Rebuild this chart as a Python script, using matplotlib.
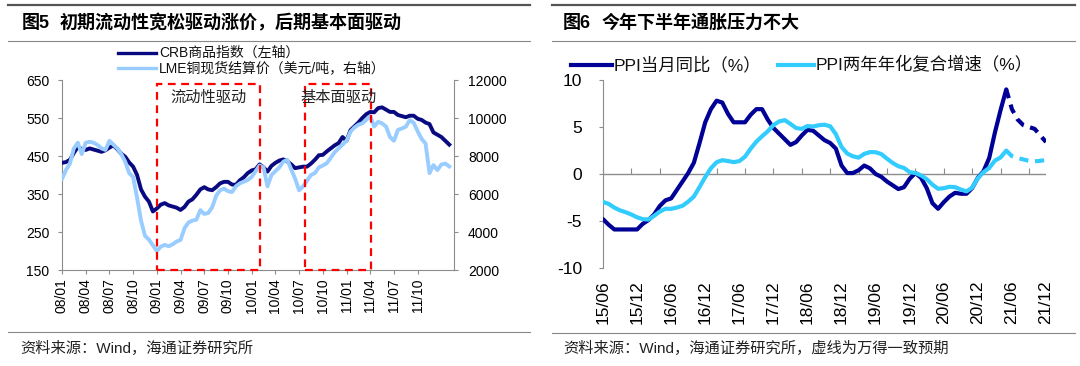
import numpy as np
import matplotlib.pyplot as plt
from matplotlib.lines import Line2D
from matplotlib.patches import Rectangle

plt.rcParams['font.family'] = ['Liberation Sans', 'Noto Sans CJK SC']
plt.rcParams['axes.unicode_minus'] = False

# ---------------- 数据 ----------------
# 图5：半月频，2008/01 起
crb = [432, 434, 440, 458, 474, 468, 466, 470, 467, 464,
       461, 465, 472, 478, 468, 456, 448, 433, 422, 400,
       362, 343, 330, 304, 312, 322, 326, 320, 317, 314,
       308, 316, 330, 336, 348, 362, 368, 362, 360, 368,
       378, 382, 382, 375, 374, 386, 394, 405, 412, 415,
       428, 420, 409, 424, 432, 438, 441, 436, 428, 418,
       420, 422, 422, 430, 440, 452, 453, 462, 470, 478,
       484, 500, 490, 518, 528, 538, 550, 560, 566, 565,
       576, 578, 572, 566, 566, 558, 555, 552, 556, 556,
       548, 545, 538, 534, 512, 506, 500, 490, 480]
lme = [6800, 7260, 7600, 8400, 8700, 8100, 8700, 8750, 8700, 8580,
       8400, 8320, 8800, 8600, 8400, 8100, 7700, 7100, 6900, 5800,
       4600, 3800, 3600, 3300, 3000, 3230, 3320, 3250, 3350, 3500,
       3580, 4200, 4500, 4600, 4650, 5150, 4950, 5000, 5300, 5900,
       6200, 6280, 6150, 6100, 6400, 6560, 6650, 6740, 6900, 7200,
       7500, 7400, 6400, 7000, 7200, 7400, 7700, 7800, 7300, 6800,
       6200, 6400, 6700, 7000, 7100, 7400, 7500, 7620, 7900, 8200,
       8400, 8600, 8800, 9280, 9500, 9650, 9720, 9900, 10100, 9550,
       9800, 9720, 9550, 9000, 8800, 9370, 9450, 9540, 9890, 9750,
       9300, 8900, 8660, 7100, 7520, 7260, 7550, 7600, 7450]
left_labels = ['08/01', '08/04', '08/07', '08/10', '09/01', '09/04', '09/07', '09/10',
               '10/01', '10/04', '10/07', '10/10', '11/01', '11/04', '11/07', '11/10']

# 图6：月频，2015/06 - 2021/12
ppi_yoy = [-4.8, -5.4, -5.9, -5.9, -5.9, -5.9, -5.9,
           -5.3, -4.9, -4.3, -3.4, -2.8, -2.6, -1.7, -0.8, 0.1, 1.2, 3.3, 5.5,
           6.9, 7.8, 7.6, 6.4, 5.5, 5.5, 5.5, 6.3, 6.9, 6.9, 5.8, 4.9,
           4.3, 3.7, 3.1, 3.4, 4.1, 4.7, 4.6, 4.1, 3.6, 3.3, 2.7, 0.9,
           0.1, 0.1, 0.4, 0.9, 0.6, 0.0, -0.3, -0.8, -1.2, -1.6, -1.4, -0.5,
           0.1, -0.4, -1.5, -3.1, -3.7, -3.0, -2.4, -2.0, -2.1, -2.1, -1.5, -0.4,
           0.3, 1.7, 4.4, 6.8, 9.0]
ppi_yoy_fc = [9.0, 6.9, 5.8, 5.2, 5.0, 4.8, 4.1, 3.4]
ppi_2y = [-2.97, -3.18, -3.58, -3.87, -4.07, -4.31, -4.61,
          -4.80, -4.85, -4.45, -4.00, -3.70, -3.71, -3.57, -3.38, -2.94, -2.40, -1.38, -0.33,
          0.61, 1.25, 1.47, 1.38, 1.26, 1.37, 1.84, 2.69, 3.44, 4.01, 4.54, 5.20,
          5.59, 5.73, 5.33, 4.89, 4.80, 5.10, 5.05, 5.19, 5.24, 5.08, 4.24, 2.88,
          2.18, 1.88, 1.74, 2.14, 2.33, 2.32, 2.12, 1.63, 1.18, 0.83, 0.64, 0.20,
          0.10, -0.15, -0.55, -1.13, -1.57, -1.51, -1.36, -1.40, -1.65, -1.85, -1.45, -0.45,
          0.20, 0.64, 1.42, 1.76, 2.49]
ppi_2y_fc = [2.49, 1.9, 1.7, 1.55, 1.4, 1.35, 1.4, 1.5]
right_labels = ['15/06', '15/12', '16/06', '16/12', '17/06', '17/12', '18/06',
                '18/12', '19/06', '19/12', '20/06', '20/12', '21/06', '21/12']

DARK_L = '#0A0A80'
LIGHT_L = '#99CCFF'
DARK_R = '#000096'
LIGHT_R = '#33CCFF'
GRAY = '#8C8C8C'

W, H = 1080, 366
fig = plt.figure(figsize=(W / 100, H / 100), dpi=100)


def fx(x):
    return x / W


def fy(y):
    return 1 - y / H


def rule(x0, x1, y, lw, color):
    fig.add_artist(Line2D([fx(x0), fx(x1)], [fy(y), fy(y)], lw=lw, color=color))


# ---------------- 图5 ----------------
axL = fig.add_axes([fx(62), fy(270), 392 / W, 190 / H])
t_left = np.arange(len(crb)) / 2
axL.plot(t_left, crb, color=DARK_L, lw=2.8, zorder=3)
axL.set_xlim(0, 49.6)
axL.set_ylim(150, 650)
axL.set_yticks(range(150, 651, 100))
axL.set_xticks(range(0, 3 * len(left_labels), 3))
axL.set_xticklabels(left_labels, rotation=90)
axL.tick_params(axis='y', direction='out', length=3, color=GRAY, labelsize=10, pad=6)
axL.tick_params(axis='x', direction='out', length=3, color=GRAY, labelsize=10, pad=3)
for s in ['top', 'right']:
    axL.spines[s].set_visible(False)
for s in ['left', 'bottom']:
    axL.spines[s].set_color(GRAY)

axL2 = axL.twinx()
axL2.plot(t_left, lme, color=LIGHT_L, lw=2.8, zorder=3)
axL2.set_ylim(2000, 12000)
axL2.set_yticks(range(2000, 12001, 2000))
axL2.tick_params(axis='y', direction='out', length=3, color=GRAY, labelsize=10, pad=7)
for s in ['top', 'left', 'bottom']:
    axL2.spines[s].set_visible(False)
axL2.spines['right'].set_color(GRAY)

# 红色虚线框
for (x0, x1), lab in zip([(12.0, 25.1), (30.8, 39.1)], ['流动性驱动', '基本面驱动']):
    axL2.add_patch(Rectangle((x0, 150), x1 - x0, 490, transform=axL.transData,
                             fill=False, edgecolor='#FF0000', lw=1.6,
                             linestyle=(0, (3.5, 2.5)), zorder=5, clip_on=False))
    axL2.text((x0 + x1) / 2, 604, lab, transform=axL.transData, ha='center',
              va='center', fontsize=11, color='#222222', zorder=6)

# 图例
for i, (col, lab) in enumerate([(DARK_L, 'CRB商品指数（左轴）'),
                                 (LIGHT_L, 'LME铜现货结算价（美元/吨，右轴）')]):
    y = 53 + i * 15
    fig.add_artist(Line2D([fx(118), fx(156)], [fy(y), fy(y)], lw=2.4, color=col))
    fig.text(fx(159), fy(y), lab, fontsize=10, va='center', color='#111111')

# 标题与边框线
rule(8, 530, 5, 1.6, '#555555')
rule(8, 530, 41, 0.8, '#888888')
rule(8, 530, 332, 0.8, '#888888')
fig.text(fx(22), fy(23), '图5', fontsize=13, weight='bold', va='center')
fig.text(fx(60), fy(23), '初期流动性宽松驱动涨价，后期基本面驱动', fontsize=13,
         weight='bold', va='center')
fig.text(fx(20), fy(348), '资料来源：Wind，海通证券研究所', fontsize=11,
         va='center', color='#222222')

# ---------------- 图6 ----------------
axP = fig.add_axes([fx(603), fy(268), 443 / W, 188 / H])
n_act = len(ppi_yoy)
t_act = np.arange(n_act)
t_fc = np.arange(n_act - 1, n_act - 1 + len(ppi_yoy_fc))
axP.axhline(0, color=GRAY, lw=1, zorder=1)
axP.plot(t_act, ppi_yoy, color=DARK_R, lw=3, zorder=3, solid_capstyle='round')
axP.plot(t_fc, ppi_yoy_fc, color=DARK_R, lw=3, ls=(0, (2.2, 1.6)), zorder=3)
axP.plot(t_act, ppi_2y, color=LIGHT_R, lw=3, zorder=4, solid_capstyle='round')
axP.plot(t_fc, ppi_2y_fc, color=LIGHT_R, lw=3, ls=(0, (2.2, 1.6)), zorder=4)
axP.set_xlim(0, 78)
axP.set_ylim(-10, 10)
axP.set_yticks([-10, -5, 0, 5, 10])
axP.set_xticks(range(0, 6 * len(right_labels), 6))
axP.set_xticklabels(right_labels, rotation=90)
axP.tick_params(axis='x', length=0, labelsize=12.5, pad=9)
axP.tick_params(axis='y', direction='out', length=3, color=GRAY, labelsize=12.5, pad=12)
for s in ['top', 'right', 'bottom']:
    axP.spines[s].set_visible(False)
axP.spines['left'].set_color(GRAY)

sec = axP.secondary_xaxis(0.5)
sec.set_xticks(range(0, 79, 5))
sec.tick_params(axis='x', direction='out', length=4, color=GRAY, labelbottom=False,
                labeltop=False)
for s in sec.spines.values():
    s.set_visible(False)

# 图例
for (x0, x1, xt), col, lab in zip([(571, 612, 614), (778, 814, 816)],
                                  [DARK_R, LIGHT_R],
                                  ['PPI当月同比（%）', 'PPI两年年化复合增速（%）']):
    fig.add_artist(Line2D([fx(x0), fx(x1)], [fy(65), fy(65)], lw=3, color=col))
    fig.text(fx(xt), fy(65), lab, fontsize=12.5, va='center', color='#111111')

rule(552, 1075, 5, 1.6, '#555555')
rule(552, 1075, 41, 0.8, '#888888')
rule(552, 1075, 333, 0.8, '#888888')
fig.text(fx(563), fy(23), '图6', fontsize=13, weight='bold', va='center')
fig.text(fx(602), fy(23), '今年下半年通胀压力不大', fontsize=13, weight='bold', va='center')
fig.text(fx(563), fy(348), '资料来源：Wind，海通证券研究所，虚线为万得一致预期',
         fontsize=11, va='center', color='#222222')

fig.savefig('out.png', dpi=100, facecolor='white')
